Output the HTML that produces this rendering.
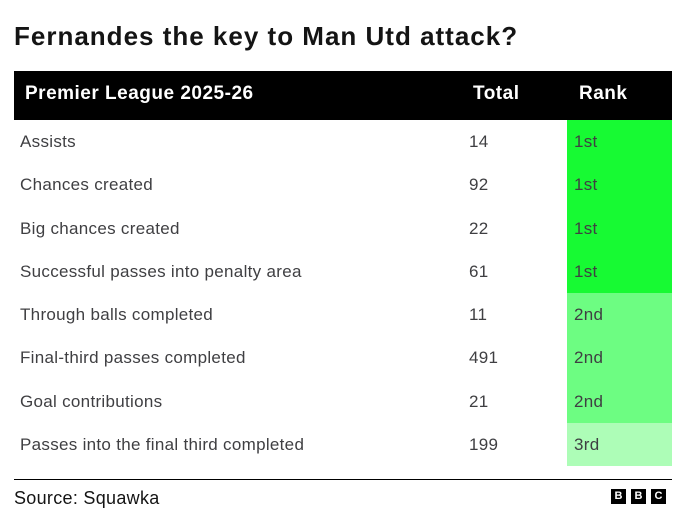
<!DOCTYPE html>
<html><head><style>
body{margin:0;width:686px;height:531px;background:#fff;font-family:"Liberation Sans",sans-serif;position:relative;overflow:hidden}
.t{position:absolute;left:14px;top:21px;font-size:26px;font-weight:bold;color:#141414;letter-spacing:1px}
.hd{position:absolute;left:14px;top:71px;width:658px;height:49px;background:#000;color:#fff;font-weight:bold;font-size:19px;letter-spacing:0.5px}
.hd span{position:absolute;top:12px}
.r{position:absolute;left:14px;width:658px;height:43.25px;font-size:17px;color:#3f3f42;letter-spacing:0.3px}
.r span{position:absolute;top:12px}
.rk{position:absolute;left:553px;top:0;width:105px;height:100%}
.line{position:absolute;left:14px;top:479px;width:658px;height:1px;background:#000}
.src{position:absolute;left:14px;top:488px;font-size:18px;color:#141414;letter-spacing:0.3px}
.b{position:absolute;top:489px;width:15px;height:15px;background:#000;color:#fff;font-weight:bold;font-size:11px;text-align:center;line-height:15px}
</style></head><body>
<div class="t">Fernandes the key to Man Utd attack?</div>
<div class="hd"><span style="left:11px">Premier League 2025-26</span><span style="left:459px">Total</span><span style="left:565px">Rank</span></div>
<div class="r" style="top:120px"><div class="rk" style="background:#17fa33"></div><span style="left:6px">Assists</span><span style="left:455px">14</span><span style="left:560px">1st</span></div>
<div class="r" style="top:163.25px"><div class="rk" style="background:#17fa33"></div><span style="left:6px">Chances created</span><span style="left:455px">92</span><span style="left:560px">1st</span></div>
<div class="r" style="top:206.5px"><div class="rk" style="background:#17fa33"></div><span style="left:6px">Big chances created</span><span style="left:455px">22</span><span style="left:560px">1st</span></div>
<div class="r" style="top:249.75px"><div class="rk" style="background:#17fa33"></div><span style="left:6px">Successful passes into penalty area</span><span style="left:455px">61</span><span style="left:560px">1st</span></div>
<div class="r" style="top:293px"><div class="rk" style="background:#6dfd82"></div><span style="left:6px">Through balls completed</span><span style="left:455px">11</span><span style="left:560px">2nd</span></div>
<div class="r" style="top:336.25px"><div class="rk" style="background:#6dfd82"></div><span style="left:6px">Final-third passes completed</span><span style="left:455px">491</span><span style="left:560px">2nd</span></div>
<div class="r" style="top:379.5px"><div class="rk" style="background:#6dfd82"></div><span style="left:6px">Goal contributions</span><span style="left:455px">21</span><span style="left:560px">2nd</span></div>
<div class="r" style="top:422.75px"><div class="rk" style="background:#adfdb7"></div><span style="left:6px">Passes into the final third completed</span><span style="left:455px">199</span><span style="left:560px">3rd</span></div>
<div class="line"></div>
<div class="src">Source: Squawka</div>
<div class="b" style="left:611px">B</div><div class="b" style="left:631px">B</div><div class="b" style="left:651px">C</div>
</body></html>
